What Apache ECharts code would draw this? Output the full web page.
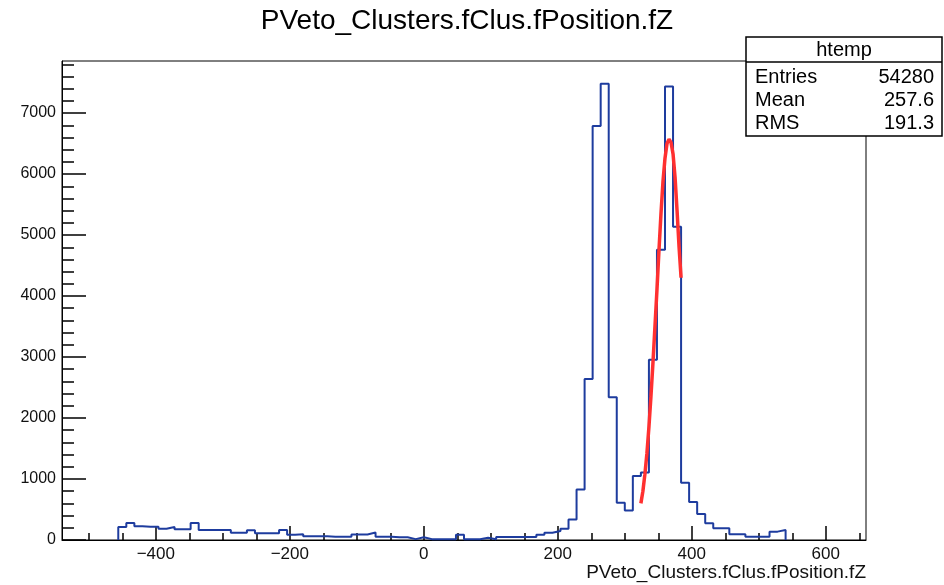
<!DOCTYPE html>
<html>
<head>
<meta charset="utf-8">
<script src="https://cdn.jsdelivr.net/npm/echarts@6/dist/echarts.min.js"></script>
<style>
html,body{margin:0;padding:0;background:#fff;}
#c{width:944px;height:585px;}
</style>
</head>
<body>
<div id="c"></div>
<script>
// ---- data ----
var titleText = 'PVeto_Clusters.fClus.fPosition.fZ';
var xAxisTitle = 'PVeto_Clusters.fClus.fPosition.fZ';
var xRange = [-540, 660];
var yRange = [0, 7854];
var binStart = -456;
var binWidth = 12;
var counts = [
  215, 280, 225, 218, 218, 185, 212, 178, 178, 280,   // -456 .. -348
  164, 164, 164, 164, 120, 120, 160, 109, 109, 109,   // -336 .. -228
  164, 85, 95, 60, 60, 60, 55, 55, 55, 90,             // -216 .. -108
  90, 122, 55, 55, 45, 45, 14, 45,                     // -96 .. -12
  14, 14, 14, 14, 85, 14, 14, 38, 14, 50,              // 0 .. 108
  50, 50, 50, 50, 85, 118, 148, 185, 335, 830,         // 120 .. 228
  2640, 6790, 7480, 2340, 611, 485, 1050, 1105, 2955, 4758, // 240 .. 348
  7435, 5136, 940, 622, 426, 273, 191, 191, 93, 93,    // 360 .. 468
  55, 55, 55, 137, 164                                 // 480 .. 528
];
var fitX = [324, 327, 330, 333, 336, 339, 342, 345, 348, 351, 354, 357, 360, 363, 366, 369, 372, 375, 378, 381, 384];
var fitY = [600, 800, 1080, 1420, 1850, 2350, 2900, 3500, 4100, 4750, 5350, 5880, 6260, 6500, 6570, 6520, 6330, 5950, 5400, 4800, 4300];
var xMajor = [-400, -200, 0, 200, 400, 600];
var xMinor = [-500, -450, -350, -300, -250, -150, -100, -50, 50, 100, 150, 250, 300, 350, 450, 500, 550, 650];
var yMajor = [0, 1000, 2000, 3000, 4000, 5000, 6000, 7000];
var yMinor = [200, 400, 600, 800, 1200, 1400, 1600, 1800, 2200, 2400, 2600, 2800, 3200, 3400, 3600, 3800,
  4200, 4400, 4600, 4800, 5200, 5400, 5600, 5800, 6200, 6400, 6600, 6800, 7200, 7400, 7600, 7800];
var statsName = 'htemp';
var statsLabels = ['Entries', 'Mean', 'RMS'];
var statsValues = ['54280', '257.6', '191.3'];

// ---- build histogram outline ----
var hist = [[binStart, 0]];
for (var i = 0; i < counts.length; i++) hist.push([binStart + i * binWidth, counts[i]]);
var lastEdge = binStart + counts.length * binWidth;
hist.push([lastEdge, counts[counts.length - 1]]);
hist.push([lastEdge, 0]);
var fit = fitX.map(function (x, i) { return [x, fitY[i]]; });

var FONT = '"Liberation Sans", Arial, Helvetica, sans-serif';
function minus(v) { return String(v).replace('-', '\u2212'); }

var chart = echarts.init(document.getElementById('c'), null, {renderer: 'canvas'});
var statsChildren = [
  {type: 'rect', shape: {x: 746, y: 37, width: 196, height: 99},
   style: {fill: '#fff', stroke: '#000', lineWidth: 1.5}},
  {type: 'line', shape: {x1: 746, y1: 62, x2: 942, y2: 62}, style: {stroke: '#000', lineWidth: 1.5}},
  {type: 'text', style: {text: statsName, x: 844, y: 50, align: 'center', verticalAlign: 'middle',
    font: '20px ' + FONT, fill: '#000'}}
];
statsLabels.forEach(function (l, i) {
  statsChildren.push({type: 'text', style: {text: l, x: 755, y: 77 + i * 23, align: 'left', verticalAlign: 'middle',
    font: '20px ' + FONT, fill: '#000'}});
  statsChildren.push({type: 'text', style: {text: statsValues[i], x: 934, y: 77 + i * 23, align: 'right', verticalAlign: 'middle',
    font: '20px ' + FONT, fill: '#000'}});
});

chart.setOption({
  animation: false,
  backgroundColor: '#fff',
  title: {
    text: titleText, left: 462, top: 2, textAlign: 'center',
    textStyle: {fontFamily: FONT, fontWeight: 'normal', fontSize: 28, color: '#000'}
  },
  grid: {left: 62, top: 61, width: 804, height: 479, show: true, borderColor: '#000', borderWidth: 1, backgroundColor: 'transparent'},
  xAxis: [
    {type: 'value', min: xRange[0], max: xRange[1], position: 'bottom',
     axisLine: {show: true, onZero: false, lineStyle: {color: '#000', width: 1}},
     axisTick: {show: true, inside: true, length: 14, customValues: xMajor, lineStyle: {color: '#000', width: 1.5}},
     axisLabel: {show: true, customValues: xMajor, margin: 6, fontSize: 17, fontFamily: FONT, color: '#111',
       formatter: function (v) { return minus(v); }},
     splitLine: {show: false}},
    {type: 'value', min: xRange[0], max: xRange[1], position: 'bottom',
     axisLine: {show: false, onZero: false},
     axisTick: {show: true, inside: true, length: 7, customValues: xMinor, lineStyle: {color: '#000', width: 1.5}},
     axisLabel: {show: false}, splitLine: {show: false}}
  ],
  yAxis: [
    {type: 'value', min: yRange[0], max: yRange[1], position: 'left',
     axisLine: {show: true, onZero: false, lineStyle: {color: '#000', width: 1}},
     axisTick: {show: true, inside: true, length: 24, customValues: yMajor, lineStyle: {color: '#000', width: 1.5}},
     axisLabel: {show: true, customValues: yMajor, margin: 6, fontSize: 16, fontFamily: FONT, color: '#111',
       formatter: function (v) { return String(v); }},
     splitLine: {show: false}},
    {type: 'value', min: yRange[0], max: yRange[1], position: 'left',
     axisLine: {show: false, onZero: false},
     axisTick: {show: true, inside: true, length: 12, customValues: yMinor, lineStyle: {color: '#000', width: 1.5}},
     axisLabel: {show: false}, splitLine: {show: false}}
  ],
  series: [
    {type: 'line', xAxisIndex: 0, yAxisIndex: 0, data: hist, step: 'end', showSymbol: false, symbol: 'none',
     lineStyle: {color: '#1e3c9e', width: 2}, z: 3},
    {type: 'line', xAxisIndex: 0, yAxisIndex: 0, data: fit, showSymbol: false, symbol: 'none',
     lineStyle: {color: '#ff3030', width: 3.5}, z: 4}
  ],
  graphic: [
    {type: 'text', style: {text: xAxisTitle, x: 866, y: 573, align: 'right', verticalAlign: 'middle',
      font: '19px ' + FONT, fill: '#111'}},
    {type: 'group', children: statsChildren, z: 100}
  ]
});
</script>
</body>
</html>
